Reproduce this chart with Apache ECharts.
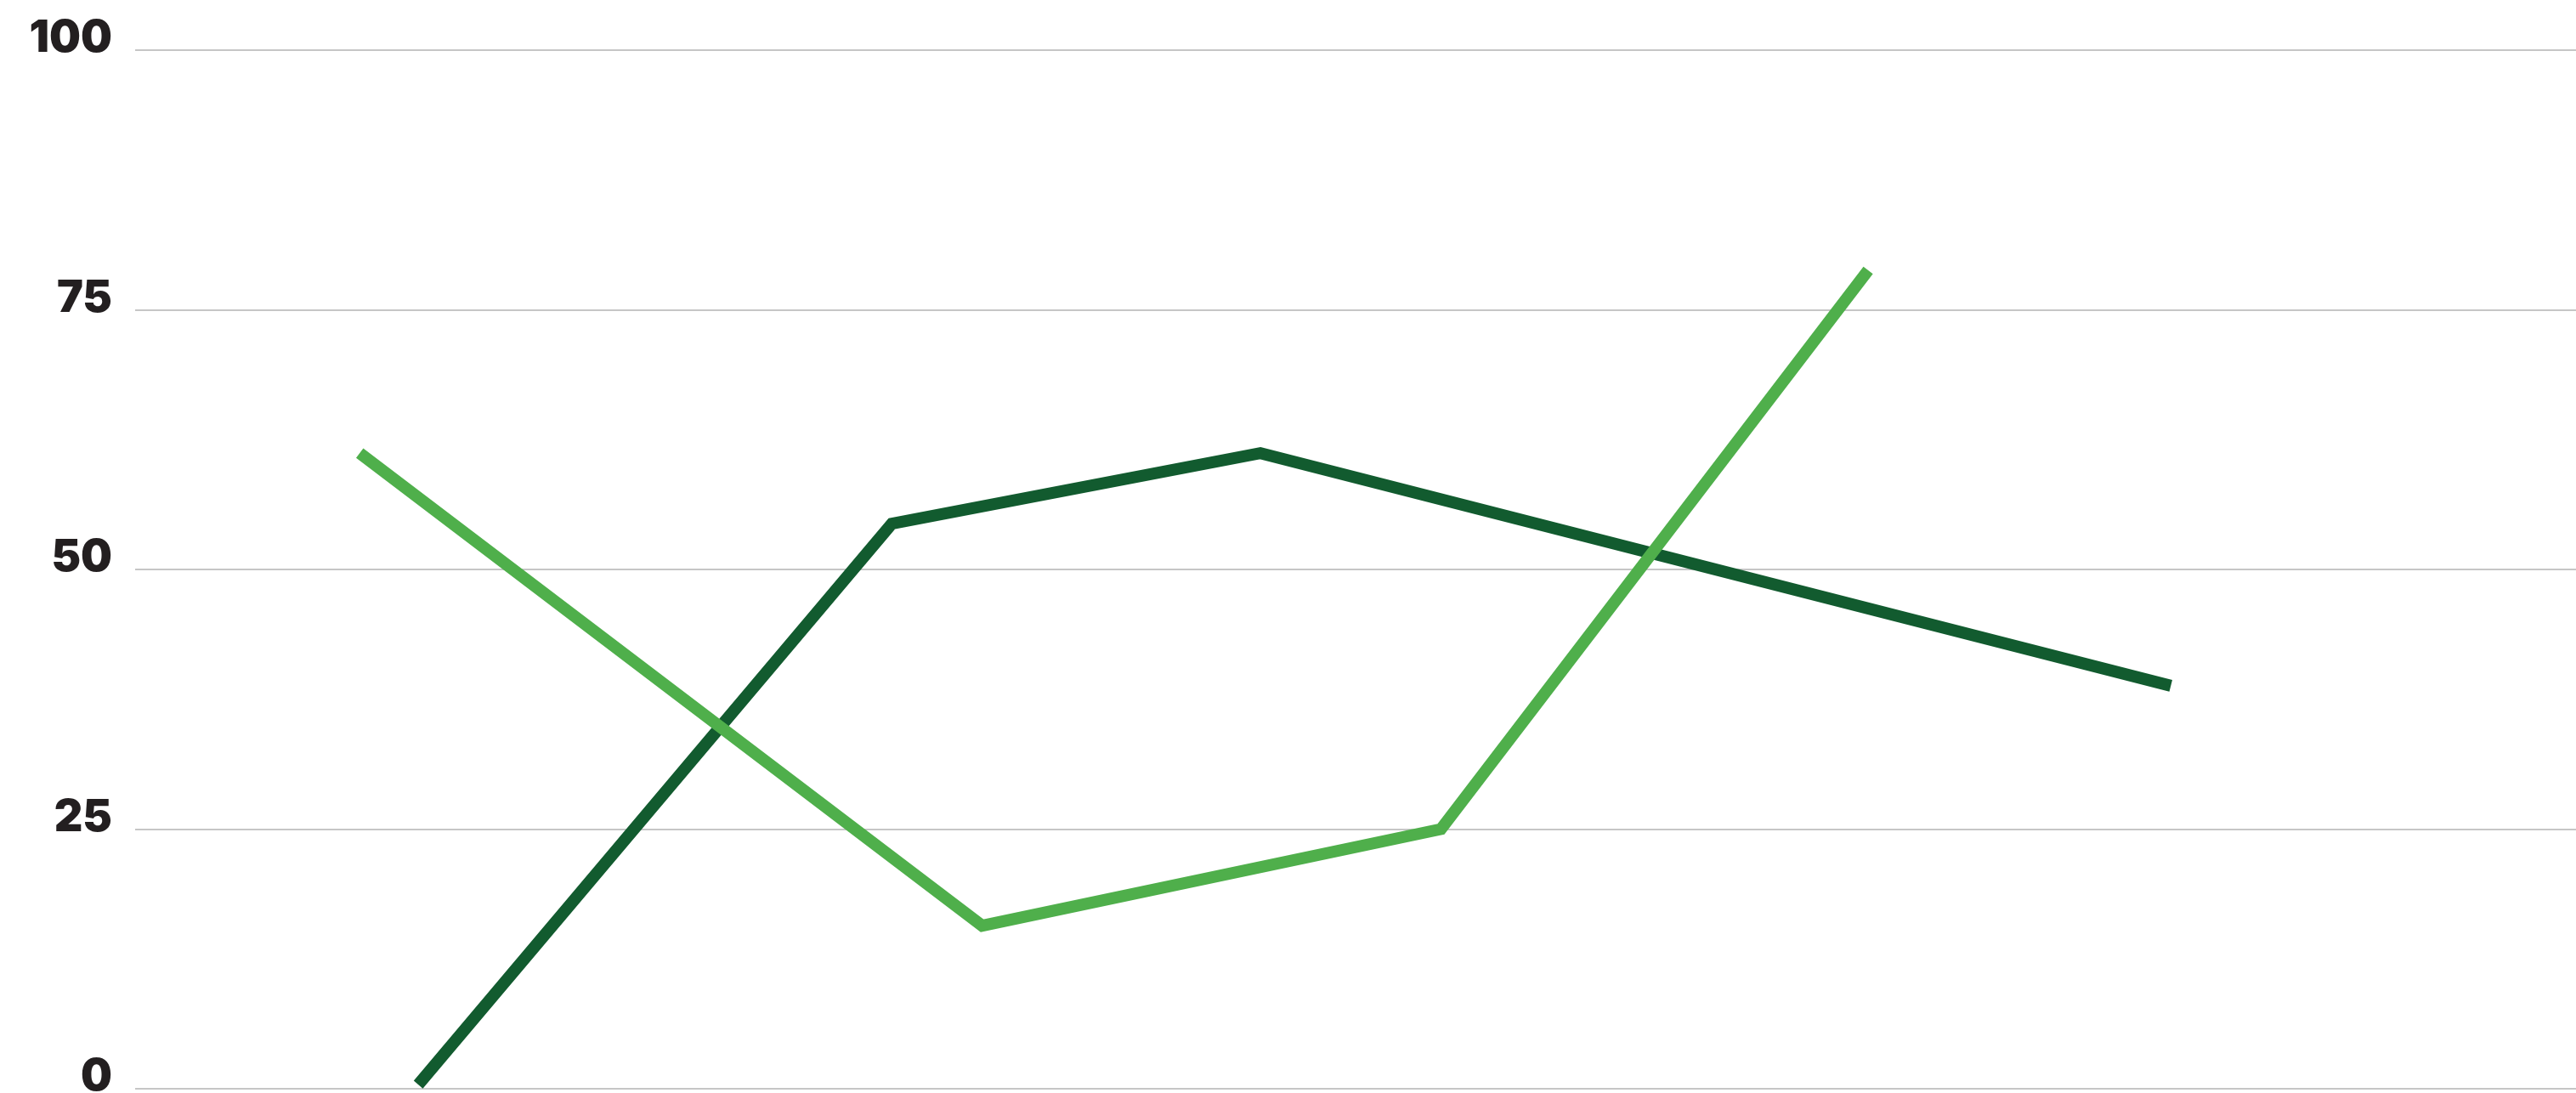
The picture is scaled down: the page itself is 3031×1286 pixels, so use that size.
<!DOCTYPE html>
<html>
<head>
<meta charset="utf-8">
<script src="https://cdn.jsdelivr.net/npm/echarts@6/dist/echarts.min.js"></script>
<style>
  html, body { margin: 0; padding: 0; background: #fff; }
  #chart { width: 3031px; height: 1286px; }
</style>
</head>
<body>
<div id="chart"></div>
<script>
// x positions (hidden axis, 0-100)
const darkX = [11.6, 31.0, 46.1, 83.4]
const darkY = [0.4, 54.4, 61.2, 38.8]
const lightX = [9.2, 34.7, 53.5, 71.0]
const lightY = [61.2, 15.7, 25.0, 78.8]
const yTicks = [0, 25, 50, 75, 100]

const darkColor = '#125b2f'
const lightColor = '#4faf4b'

const chart = echarts.init(document.getElementById('chart'))

const toPairs = (xs, ys) => xs.map((x, i) => [x, ys[i]])

chart.setOption({
  backgroundColor: '#fff',
  animation: false,
  grid: { left: 159, right: 0, top: 59, bottom: 5, outerBoundsMode: 'none', containLabel: false },
  xAxis: {
    type: 'value',
    min: 0,
    max: 100,
    show: false
  },
  yAxis: {
    type: 'value',
    min: yTicks[0],
    max: yTicks[yTicks.length - 1],
    interval: 25,
    axisLine: { show: false },
    axisTick: { show: false },
    splitLine: { lineStyle: { color: '#c6c6c6', width: 2 } },
    axisLabel: {
      margin: 27,
      color: '#231f20',
      fontFamily: 'Inter',
      fontWeight: 900,
      fontSize: 52,
      verticalAlign: 'bottom',
      lineHeight: 27
    }
  },
  series: [
    {
      type: 'line',
      data: toPairs(darkX, darkY),
      showSymbol: false,
      clip: false,
      lineStyle: { color: darkColor, width: 14, cap: 'butt', join: 'miter' }
    },
    {
      type: 'line',
      data: toPairs(lightX, lightY),
      showSymbol: false,
      clip: false,
      lineStyle: { color: lightColor, width: 14, cap: 'butt', join: 'miter' }
    }
  ]
})
</script>
</body>
</html>
